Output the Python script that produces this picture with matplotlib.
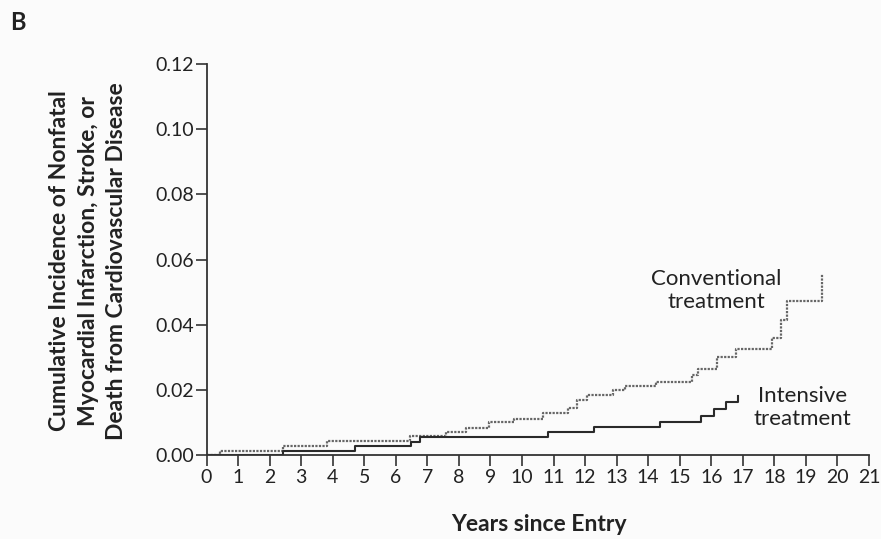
import matplotlib.pyplot as plt

# Kaplan-Meier style step data (years since entry, cumulative incidence)
conv_years = [0, 0.42, 2.42, 3.82, 6.44, 7.58, 8.21, 8.95, 9.74, 10.68, 11.45,
              11.73, 12.05, 12.89, 13.28, 14.26, 15.39, 15.58, 16.18, 16.79,
              17.94, 18.21, 18.40, 19.52]
conv_vals = [0, 0.0013, 0.0028, 0.0042, 0.0057, 0.0070, 0.0084, 0.0100, 0.0111,
             0.0128, 0.0143, 0.0169, 0.0184, 0.0199, 0.0212, 0.0225, 0.0245,
             0.0263, 0.0300, 0.0324, 0.0358, 0.0414, 0.0472, 0.0555]

int_years = [0, 2.42, 4.71, 6.47, 6.78, 10.82, 12.29, 14.37, 15.66, 16.10,
             16.47, 16.84]
int_vals = [0, 0.0011, 0.0027, 0.0041, 0.0055, 0.0072, 0.0087, 0.0102, 0.0121,
            0.0140, 0.0164, 0.0182]

x_ticks = list(range(0, 22))
y_ticks = [0.00, 0.02, 0.04, 0.06, 0.08, 0.10, 0.12]

plt.rcParams["font.family"] = ["Lato", "DejaVu Sans"]

fig = plt.figure(figsize=(8.81, 5.39), dpi=100, facecolor="#fbfbfb")
ax = fig.add_axes([0.2344, 0.1558, 0.7520, 0.7255], facecolor="#fbfbfb")

ax.plot(conv_years, conv_vals, drawstyle="steps-post", color="#666666",
        linestyle=(0, (1, 0.6)), linewidth=1.6)
ax.plot(int_years, int_vals, drawstyle="steps-post", color="#2a2a2a",
        linestyle="-", linewidth=1.5)

ax.text(16.15, 0.0506, "Conventional\ntreatment", ha="center", va="center",
        fontsize=16, color="#222222", linespacing=1.2)
ax.text(18.9, 0.0147, "Intensive\ntreatment", ha="center", va="center",
        fontsize=16, color="#222222", linespacing=1.2)

ax.set_xlim(0, 21)
ax.set_ylim(0, 0.12)
ax.set_xticks(x_ticks)
ax.set_yticks(y_ticks)
ax.set_yticklabels([f"{v:.2f}" for v in y_ticks])

for side in ("top", "right"):
    ax.spines[side].set_visible(False)
for side in ("left", "bottom"):
    ax.spines[side].set_color("#333333")
    ax.spines[side].set_linewidth(1.3)

ax.tick_params(axis="both", direction="out", length=8, width=1.2,
               color="#333333", labelsize=14, labelcolor="#222222")
ax.tick_params(axis="x", pad=2)
ax.tick_params(axis="y", pad=1)

# axis titles placed in figure coordinates
fig.text(0.612, 0.026, "Years since Entry", ha="center", va="center",
         fontsize=16.5, fontweight="bold", color="#222222")
fig.text(0.100, 0.516, "Cumulative Incidence of Nonfatal\nMyocardial Infarction, Stroke, or\n"
         "Death from Cardiovascular Disease", ha="center", va="center",
         rotation=90, multialignment="center", fontsize=16.5, fontweight="bold",
         color="#222222", linespacing=1.42)

fig.text(0.012, 0.944, "B", fontsize=17, fontweight="bold", color="#222222")

fig.savefig("out.png", dpi=100, facecolor=fig.get_facecolor())
